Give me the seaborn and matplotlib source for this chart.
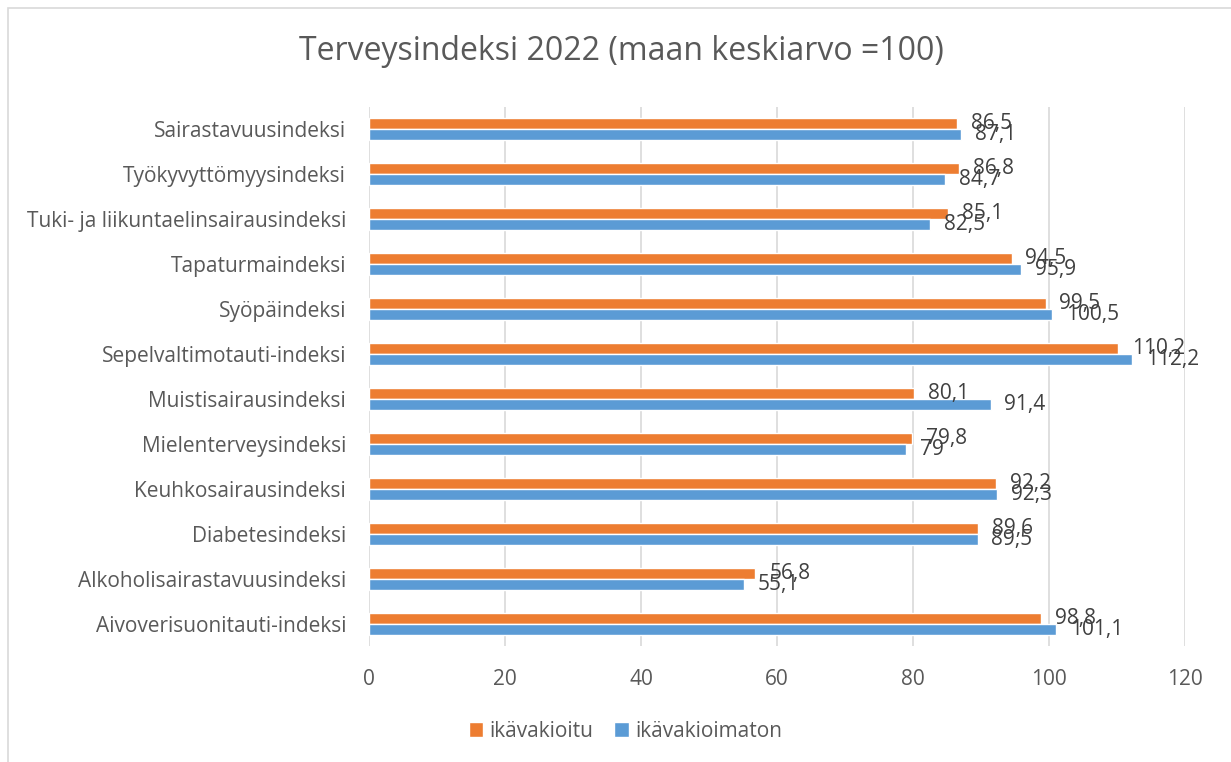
import numpy as np
import pandas as pd
import matplotlib.pyplot as plt
import seaborn as sns
from matplotlib.patches import Rectangle

# Data
categories = ['Sairastavuusindeksi', 'Työkyvyttömyysindeksi', 'Tuki- ja liikuntaelinsairausindeksi',
              'Tapaturmaindeksi', 'Syöpäindeksi', 'Sepelvaltimotauti-indeksi', 'Muistisairausindeksi',
              'Mielenterveysindeksi', 'Keuhkosairausindeksi', 'Diabetesindeksi',
              'Alkoholisairastavuusindeksi', 'Aivoverisuonitauti-indeksi']
ikavakioitu = [86.5, 86.8, 85.1, 94.5, 99.5, 110.2, 80.1, 79.8, 92.2, 89.6, 56.8, 98.8]
ikavakioimaton = [87.1, 84.7, 82.5, 95.9, 100.5, 112.2, 91.4, 79.0, 92.3, 89.5, 55.1, 101.1]
series_names = ['ikävakioitu', 'ikävakioimaton']
x_ticks = [0, 20, 40, 60, 80, 100, 120]

df = pd.DataFrame({
    'kategoria': categories * 2,
    'arvo': ikavakioitu + ikavakioimaton,
    'sarja': [series_names[0]] * len(categories) + [series_names[1]] * len(categories),
})

sns.set_style('white')
plt.rcParams['font.family'] = ['Open Sans', 'DejaVu Sans']

fig = plt.figure(figsize=(12.31, 7.62), dpi=100)
ax = fig.add_axes([0.2998, 0.1516, 0.6628, 0.7086])

sns.barplot(data=df, y='kategoria', x='arvo', hue='sarja', orient='h',
            palette=['#ED7D31', '#5B9BD5'], width=0.5, ax=ax, saturation=1)

# Arvot pylväiden päähän
for cont in ax.containers:
    labels = [f'{v:g}'.replace('.', ',') for v in cont.datavalues]
    ax.bar_label(cont, labels=labels, padding=10, fontsize=15, color='#404040')

ax.set_xlim(0, 120)
ax.set_xticks(x_ticks)
ax.set_xlabel('')
ax.set_ylabel('')
ax.grid(axis='x', color='#d9d9d9', linewidth=1.2)
ax.set_axisbelow(True)
for s in ax.spines.values():
    s.set_visible(False)
ax.tick_params(axis='x', colors='#595959', labelsize=15, length=0, pad=16)
ax.tick_params(axis='y', colors='#595959', labelsize=15, length=0, pad=16.5)

ax.get_legend().remove()
handles, lbls = ax.get_legend_handles_labels()
fig.legend(handles, lbls, loc='center', bbox_to_anchor=(0.508, 0.04), ncol=2, frameon=False,
           fontsize=15, labelcolor='#595959', handlelength=0.7, handleheight=0.7,
           handletextpad=0.3, columnspacing=1.0)

fig.text(0.505, 0.932, 'Terveysindeksi 2022 (maan keskiarvo =100)', ha='center', va='center',
         fontsize=23, color='#595959')

fig.patches.append(Rectangle((8 / 1231, -0.01), 1.1, 1 - 8 / 762 + 0.01, transform=fig.transFigure,
                             fill=False, edgecolor='#d9d9d9', linewidth=1.2))

fig.savefig('out.png', dpi=100)
